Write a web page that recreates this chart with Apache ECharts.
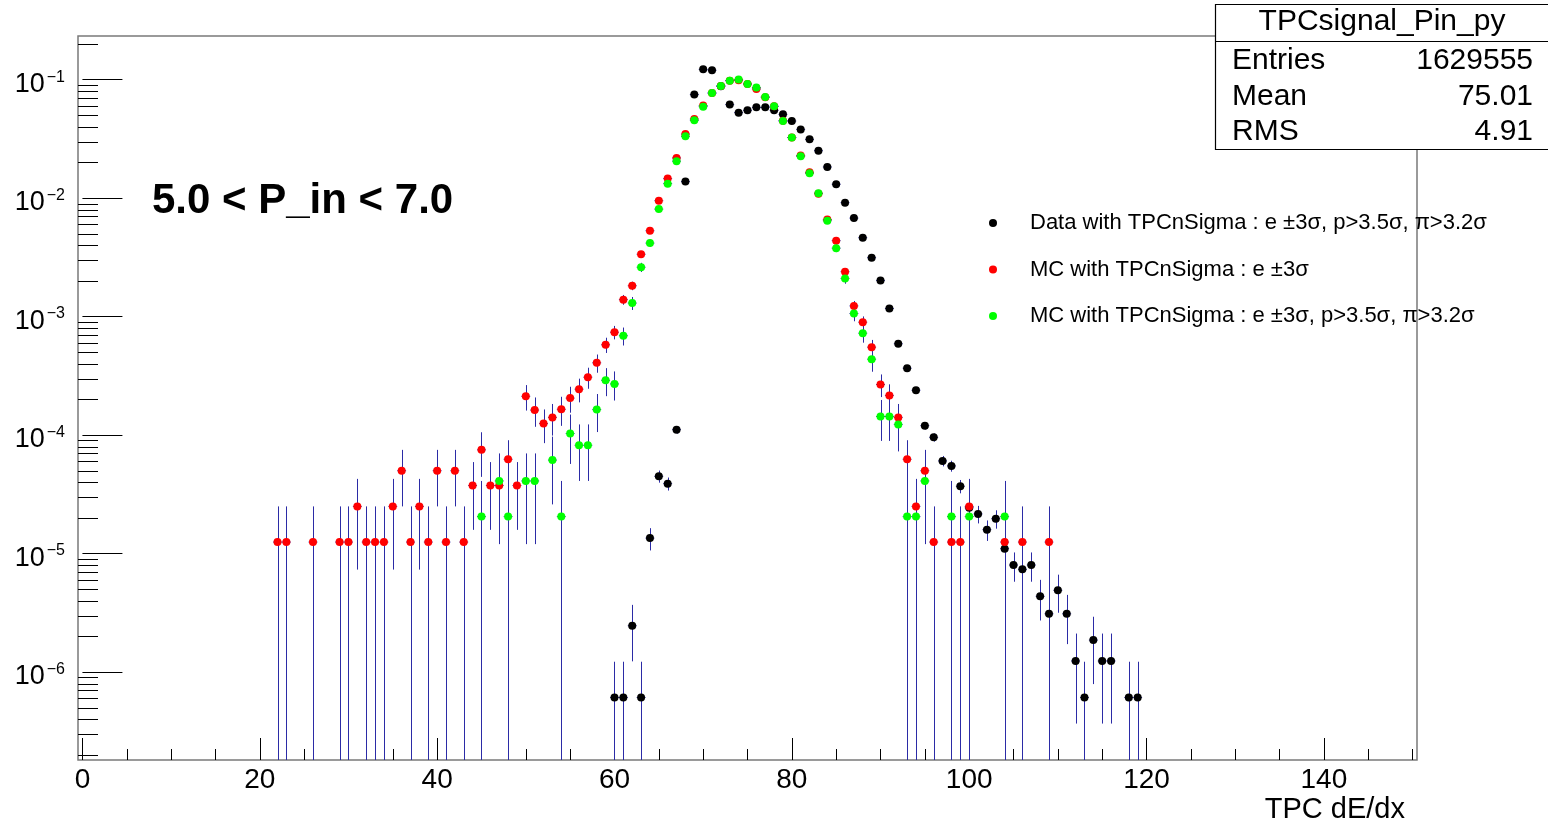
<!DOCTYPE html>
<html><head><meta charset="utf-8">
<script src="https://cdn.jsdelivr.net/npm/echarts@6/dist/echarts.min.js"></script>
<style>html,body{margin:0;padding:0;background:#fff}#c{width:1548px;height:827px}</style>
</head><body><div id="c"></div>
<script>
const FONT = '"Liberation Sans", Arial, Helvetica, sans-serif';

// ---- axis ticks / labels ----
const xTickLabels = [0, 20, 40, 60, 80, 100, 120, 140];
const xMinorTicks = [5, 10, 15, 25, 30, 35, 45, 50, 55, 65, 70, 75, 85, 90, 95, 105, 110, 115, 125, 130, 135, 145, 150];
const X_MIN = -0.5, X_MAX = 150.5;
const Y_MIN = 1.81e-7, Y_MAX = 0.2333;

// ---- series: Data with TPCnSigma cuts (black) ----
const dataBins = [60,61,62,63,64,65,66,67,68,69,70,71,72,73,74,75,76,77,78,79,80,81,82,83,84,85,86,87,88,89,90,91,92,93,94,95,96,97,98,99,100,101,102,103,104,105,106,107,108,109,110,111,112,113,114,115,116,118,119];
const dataVals = [6.1e-7,6.1e-7,2.46e-6,6.1e-7,1.35e-5,4.49e-5,3.89e-5,1.11e-4,0.01377,0.0747,0.122,0.120,0.088,0.0615,0.0526,0.0551,0.0583,0.0583,0.0551,0.0509,0.0447,0.0380,0.0313,0.0251,0.0183,0.0131,0.00914,0.00678,0.00463,0.00314,0.00202,0.00117,5.89e-4,3.67e-4,2.39e-4,1.20e-4,9.57e-5,6.05e-5,5.49e-5,3.70e-5,2.43e-5,2.16e-5,1.59e-5,1.97e-5,1.10e-5,8.0e-6,7.36e-6,8.0e-6,4.36e-6,3.10e-6,4.90e-6,3.10e-6,1.24e-6,6.1e-7,1.86e-6,1.24e-6,1.24e-6,6.1e-7,6.1e-7];
const dataEntryWeight = 6.14e-7;

// ---- series: MC e +-3 sigma (red) ----
const mcBins = [22,23,26,29,30,31,32,33,34,35,36,37,38,39,40,41,42,43,44,45,46,47,48,49,50,51,52,53,54,55,56,57,58,59,60,61,62,63,64,65,66,67,68,69,70,71,72,73,74,75,76,77,78,79,80,81,82,83,84,85,86,87,88,89,90,91,92,93,94,95,96,98,99,100,104,106,109];
const mcVals = [1.25e-5,1.25e-5,1.25e-5,1.25e-5,1.25e-5,2.5e-5,1.25e-5,1.25e-5,1.25e-5,2.5e-5,5.0e-5,1.25e-5,2.5e-5,1.25e-5,5.0e-5,1.25e-5,5.0e-5,1.25e-5,3.75e-5,7.5e-5,3.75e-5,3.75e-5,6.25e-5,3.75e-5,2.125e-4,1.625e-4,1.25e-4,1.41e-4,1.65e-4,2.05e-4,2.44e-4,3.08e-4,4.07e-4,5.78e-4,7.38e-4,0.00139,0.00182,0.00336,0.0053,0.0095,0.0146,0.0218,0.0347,0.0465,0.0603,0.077,0.0883,0.098,0.0986,0.0918,0.0833,0.071,0.0595,0.045,0.0324,0.0229,0.0165,0.0109,0.0066,0.00437,0.00239,0.00123,8.97e-4,5.52e-4,2.67e-4,2.16e-4,1.41e-4,6.25e-5,2.5e-5,5.0e-5,1.25e-5,1.25e-5,1.25e-5,2.5e-5,1.25e-5,1.25e-5,1.25e-5];
const mcEntryWeight = 1.25e-5;

// ---- series: MC with full cuts (green) ----
const mcCutBins = [45,47,48,50,51,53,54,55,56,57,58,59,60,61,62,63,64,65,66,67,68,69,70,71,72,73,74,75,76,77,78,79,80,81,82,83,84,85,86,87,88,89,90,91,92,93,94,95,98,100,104];
const mcCutVals = [2.05e-5,4.1e-5,2.05e-5,4.1e-5,4.1e-5,6.15e-5,2.05e-5,1.03e-4,8.2e-5,8.2e-5,1.64e-4,2.9e-4,2.7e-4,6.89e-4,0.0013,0.00261,0.00417,0.00807,0.01324,0.0205,0.0332,0.0453,0.0591,0.077,0.0883,0.098,0.100,0.0918,0.0856,0.0713,0.0595,0.0447,0.0324,0.0225,0.0162,0.0110,0.00644,0.00378,0.0021,0.00106,7.24e-4,4.37e-4,1.435e-4,1.435e-4,1.23e-4,2.05e-5,2.05e-5,4.1e-5,2.05e-5,2.05e-5,2.05e-5];
const mcCutEntryWeight = 2.05e-5;

const seriesNames = [
  'Data with TPCnSigma : e \u00b13\u03c3, p>3.5\u03c3, \u03c0>3.2\u03c3',
  'MC with TPCnSigma : e \u00b13\u03c3',
  'MC with TPCnSigma : e \u00b13\u03c3, p>3.5\u03c3, \u03c0>3.2\u03c3'
];
const seriesColors = ['#000000', '#ff0000', '#00ff00'];
const statsTitle = 'TPCsignal_Pin_py';
const statsRows = [['Entries', '1629555'], ['Mean', '75.01'], ['RMS', '4.91']];
const rangeText = '5.0 < P_in < 7.0';
const xTitle = 'TPC dE/dx';

const ERR_COLOR = '#2b2ba6';

// minor log ticks (axis decoration)
const yMinor = [];
for (let k = -7; k <= -1; k++) for (let m = 2; m <= 9; m++) {
  const v = m * Math.pow(10, k);
  if (v > Y_MIN && v < Y_MAX) yMinor.push(v);
}

function errSeries(id, bins, vals, w) {
  return {
    type: 'custom', name: id, silent: true, clip: true,
    data: bins.map((b, i) => [b, vals[i], Math.sqrt(vals[i] * w)]),
    renderItem(params, api) {
      const x = api.value(0), y = api.value(1), e = api.value(2);
      const lo = Math.max(y - e, Y_MIN), hi = Math.min(y + e, Y_MAX);
      const pc = api.coord([x, y]);
      const pl = api.coord([x, lo]), ph = api.coord([x, hi]);
      const pxl = api.coord([x - 0.5, y]), pxr = api.coord([x + 0.5, y]);
      const cx = Math.round(pc[0]) + 0.5;
      return { type: 'group', children: [
        { type: 'line', shape: { x1: cx, y1: ph[1], x2: cx, y2: pl[1] }, style: { stroke: ERR_COLOR, lineWidth: 1 } },
        { type: 'line', shape: { x1: pxl[0], y1: pc[1], x2: pxr[0], y2: pc[1] }, style: { stroke: ERR_COLOR, lineWidth: 1 } }
      ]};
    }
  };
}
function markerSeries(name, bins, vals, color) {
  return {
    type: 'scatter', name, symbol: 'circle', symbolSize: 8, silent: true,
    itemStyle: { color, opacity: 1 },
    data: bins.map((b, i) => [b, vals[i]])
  };
}

const chart = echarts.init(document.getElementById('c'), null, { renderer: 'canvas' });
chart.setOption({
  animation: false,
  backgroundColor: '#ffffff',
  grid: { left: 78, right: 131, top: 36, bottom: 67, show: true, borderColor: '#7a7a7a', borderWidth: 1.5, backgroundColor: 'transparent' },
  xAxis: [{
    type: 'value', min: X_MIN, max: X_MAX, position: 'bottom',
    axisLine: { show: false }, splitLine: { show: false },
    axisTick: { show: true, inside: true, length: 22, customValues: xTickLabels, lineStyle: { color: '#000', width: 1 } },
    axisLabel: { show: true, customValues: xTickLabels, margin: 6, fontSize: 28, color: '#000', fontFamily: FONT }
  }, {
    type: 'value', min: X_MIN, max: X_MAX, position: 'bottom',
    axisLine: { show: false }, splitLine: { show: false },
    axisTick: { show: true, inside: true, length: 11, customValues: xMinorTicks, lineStyle: { color: '#000', width: 1 } },
    axisLabel: { show: false }
  }],
  yAxis: {
    type: 'log', logBase: 10, min: Y_MIN, max: Y_MAX, splitNumber: 6,
    axisLine: { show: false }, splitLine: { show: false },
    axisTick: { show: true, inside: true, length: 40, lineStyle: { color: '#000', width: 1 } },
    axisLabel: {
      show: true, margin: 13, showMinLabel: false, showMaxLabel: false, color: '#000', fontFamily: FONT,
      formatter: v => '{b|10}{s|\u2212' + Math.round(-Math.log10(v)) + '}',
      rich: {
        b: { fontSize: 27, lineHeight: 27, padding: [9, 0, 0, 0], fontFamily: FONT, color: '#000' },
        s: { fontSize: 16, lineHeight: 16, padding: [3, 0, 0, 2], verticalAlign: 'top', fontFamily: FONT, color: '#000' }
      }
    }
  },
  legend: {
    data: seriesNames, orient: 'vertical', left: 984, top: 207, itemGap: 24.5,
    itemWidth: 8, itemHeight: 8, icon: 'circle', selectedMode: false,
    formatter: n => '{g|}' + n,
    textStyle: { fontFamily: FONT, fontSize: 22, color: '#000', lineHeight: 22, rich: { g: { width: 28 } } }
  },
  graphic: [
    { type: 'text', x: 152, y: 201, style: { text: rangeText, fontFamily: FONT, fontSize: 42, fontWeight: 'bold', fill: '#000', align: 'left', verticalAlign: 'middle' } },
    { type: 'text', x: 1405, y: 810, style: { text: xTitle, fontFamily: FONT, fontSize: 29, fill: '#000', align: 'right', verticalAlign: 'middle' } },
    { type: 'rect', shape: { x: 1215.5, y: 4.5, width: 340, height: 145 }, style: { fill: '#fff', stroke: '#000', lineWidth: 1.2 }, z: 10 },
    { type: 'line', shape: { x1: 1215.5, y1: 41.5, x2: 1548, y2: 41.5 }, style: { stroke: '#000', lineWidth: 1.2 }, z: 11 },
    { type: 'text', x: 1382, y: 22, z: 11, style: { text: statsTitle, fontFamily: FONT, fontSize: 30, fill: '#000', align: 'center', verticalAlign: 'middle' } },
    ...statsRows.flatMap((r, i) => [
      { type: 'text', x: 1232, y: 61 + i * 35.5, z: 11, style: { text: r[0], fontFamily: FONT, fontSize: 30, fill: '#000', align: 'left', verticalAlign: 'middle' } },
      { type: 'text', x: 1533, y: 61 + i * 35.5, z: 11, style: { text: r[1], fontFamily: FONT, fontSize: 30, fill: '#000', align: 'right', verticalAlign: 'middle' } }
    ])
  ],
  series: [
    {
      type: 'custom', name: 'minorTicks', silent: true, clip: false,
      data: yMinor.map(v => [X_MIN, v]),
      renderItem(params, api) {
        const p = api.coord([api.value(0), api.value(1)]);
        const y = Math.round(p[1]) + 0.5;
        return { type: 'line', shape: { x1: p[0], y1: y, x2: p[0] + 20, y2: y }, style: { stroke: '#000', lineWidth: 1 } };
      }
    },
    errSeries('errData', dataBins, dataVals, dataEntryWeight),
    markerSeries(seriesNames[0], dataBins, dataVals, seriesColors[0]),
    errSeries('errMC', mcBins, mcVals, mcEntryWeight),
    markerSeries(seriesNames[1], mcBins, mcVals, seriesColors[1]),
    errSeries('errMCcut', mcCutBins, mcCutVals, mcCutEntryWeight),
    markerSeries(seriesNames[2], mcCutBins, mcCutVals, seriesColors[2])
  ]
});
</script></body></html>
